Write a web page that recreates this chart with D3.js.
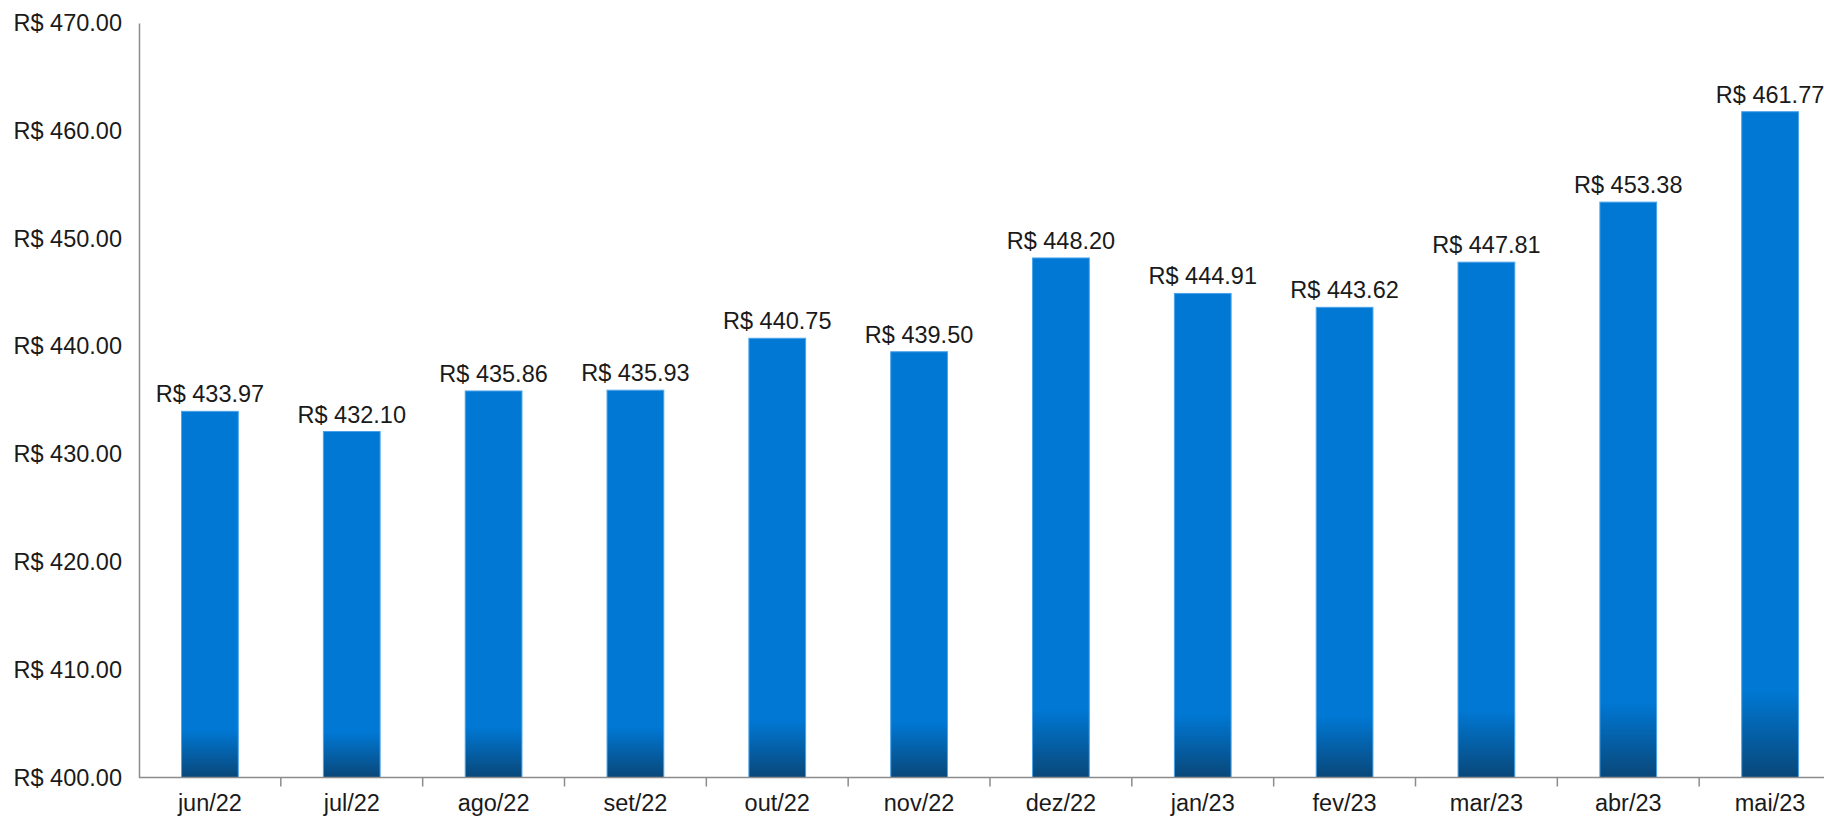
<!DOCTYPE html>
<html>
<head>
<meta charset="utf-8">
<script src="https://cdn.jsdelivr.net/npm/d3@7"></script>
<style>
  body { margin: 0; background: #fff; }
  text { font-family: "Liberation Sans", Arial, sans-serif; fill: #1a1a1a; }
</style>
</head>
<body>
<div id="chart"></div>
<script>
var months = ["jun/22", "jul/22", "ago/22", "set/22", "out/22", "nov/22",
              "dez/22", "jan/23", "fev/23", "mar/23", "abr/23", "mai/23"];
var values = [433.97, 432.10, 435.86, 435.93, 440.75, 439.50,
              448.20, 444.91, 443.62, 447.81, 453.38, 461.77];
var yTicks = [400, 410, 420, 430, 440, 450, 460, 470];

var width = 1824;
var height = 820;

var svg = d3.select('#chart')
    .append('svg')
    .attr('width', width)
    .attr('height', height);

// bar fill: flat blue, darkening near the base
var grad = svg.append('defs').append('linearGradient')
    .attr('id', 'barFill')
    .attr('x1', 0).attr('y1', 0)
    .attr('x2', 0).attr('y2', 1);
grad.append('stop').attr('offset', '0%').attr('stop-color', '#0078d4');
grad.append('stop').attr('offset', '87%').attr('stop-color', '#0078d4');
grad.append('stop').attr('offset', '100%').attr('stop-color', '#094779');

var x = d3.scaleBand()
    .domain(months)
    .range([139, 1841])
    .paddingInner(0.6)
    .paddingOuter(0.3);

var y = d3.scaleLinear()
    .domain([400, 470])
    .range([777.5, 23]);

var fmt = function (v) { return 'R$ ' + v.toFixed(2); };

// bars
svg.selectAll('rect.bar')
    .data(values)
    .enter()
    .append('rect')
    .attr('class', 'bar')
    .attr('x', function (d, i) { return x(months[i]); })
    .attr('y', function (d) { return y(d); })
    .attr('width', x.bandwidth())
    .attr('height', function (d) { return y(400) - y(d); })
    .attr('fill', 'url(#barFill)')
    .attr('stroke', '#4aa3ea')
    .attr('stroke-width', 1);

// value labels
svg.selectAll('text.val')
    .data(values)
    .enter()
    .append('text')
    .attr('class', 'val')
    .attr('x', function (d, i) { return x(months[i]) + x.bandwidth() / 2; })
    .attr('y', function (d) { return y(d) - 9; })
    .attr('text-anchor', 'middle')
    .style('font-size', '23.5px')
    .text(fmt);

// y axis
var yAxis = d3.axisLeft(y)
    .tickValues(yTicks)
    .tickSize(0)
    .tickPadding(17)
    .tickFormat(fmt);

var gy = svg.append('g')
    .attr('transform', 'translate(139,0)')
    .call(yAxis);
gy.select('.domain').attr('stroke', '#8c8c8c').attr('stroke-width', 1.5);
gy.selectAll('text')
    .style('font-size', '23.5px')
    .style('font-family', '"Liberation Sans", Arial, sans-serif')
    .attr('fill', '#1a1a1a');

// x axis line + tick marks between categories
var gap = (x.step() - x.bandwidth()) / 2;
var gx = svg.append('g');
gx.append('line')
    .attr('x1', 139).attr('x2', 1841)
    .attr('y1', y(400)).attr('y2', y(400))
    .attr('stroke', '#8c8c8c')
    .attr('stroke-width', 1.5);

gx.selectAll('line.sep')
    .data(months.slice(1))
    .enter()
    .append('line')
    .attr('class', 'sep')
    .attr('x1', function (d) { return x(d) - gap; })
    .attr('x2', function (d) { return x(d) - gap; })
    .attr('y1', y(400))
    .attr('y2', y(400) + 9)
    .attr('stroke', '#8c8c8c')
    .attr('stroke-width', 1.5);

gx.selectAll('text.cat')
    .data(months)
    .enter()
    .append('text')
    .attr('class', 'cat')
    .attr('x', function (d) { return x(d) + x.bandwidth() / 2; })
    .attr('y', 811)
    .attr('text-anchor', 'middle')
    .style('font-size', '23.5px')
    .text(function (d) { return d; });
</script>
</body>
</html>
